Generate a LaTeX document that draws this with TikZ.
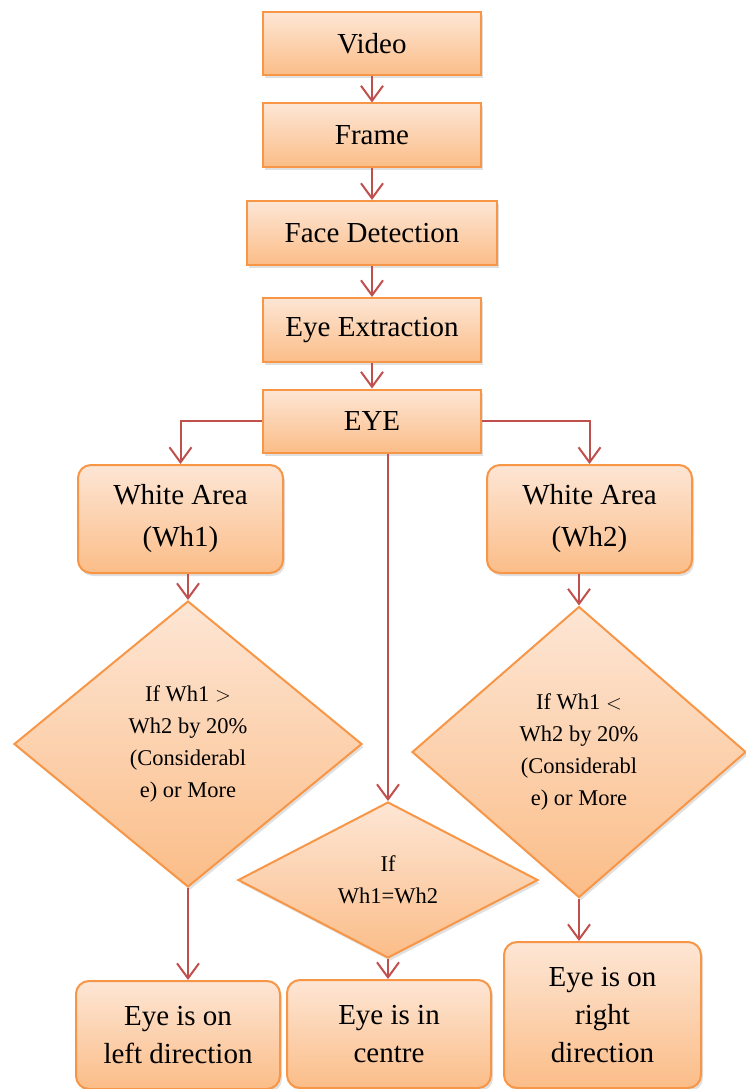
\documentclass[tikz,border=0pt]{standalone}
\usepackage{fontspec}
\setmainfont{Liberation Serif}
\usetikzlibrary{arrows.meta, positioning, shapes.geometric, shadows}

\definecolor{boxtop}{HTML}{FDE6D5}
\definecolor{boxbot}{HTML}{FBBD88}
\definecolor{boxline}{HTML}{F79646}
\definecolor{arrowred}{HTML}{C0504D}

\begin{document}
\begin{tikzpicture}[x=1pt, y=1pt, on grid,
        base/.style={draw=boxline, line width=2pt, top color=boxtop, bottom color=boxbot,
            drop shadow={shadow xshift=2pt, shadow yshift=-3pt, fill=black!30, opacity=0.4},
            align=center, inner sep=2pt},
        stepbox/.style={base, rectangle, minimum width=218pt, minimum height=63pt,
            font=\fontsize{29}{40}\selectfont},
        roundbox/.style={base, rectangle, rounded corners=13pt, minimum width=205pt, minimum height=108pt,
            font=\fontsize{29}{42}\selectfont},
        endbox/.style={roundbox, font=\fontsize{29}{38}\selectfont},
        test/.style={base, diamond, inner sep=0pt, font=\fontsize{22.5}{32}\selectfont},
        arr/.style={draw=arrowred, line width=2pt, -{Straight Barb[length=15pt, width=22pt, line width=2pt]}}]
    \useasboundingbox (0,0) rectangle (746,-1089);
    \node[stepbox] (video) at (372,-44) {Video};
    \node[stepbox] (frame) [below=91pt of video] {Frame};
    \node[stepbox, minimum width=250pt, minimum height=64pt] (face) [below=98pt of frame] {Face Detection};
    \node[stepbox, minimum height=64pt] (extract) [below=97pt of face] {Eye Extraction};
    \node[stepbox] (eye) [below=91pt of extract] {EYE};
    \node[roundbox] (wha) [below left=98pt and 191.5pt of eye] {White Area\\(Wh1)};
    \node[roundbox] (whb) [below right=98pt and 217.5pt of eye] {White Area\\(Wh2)};
    \node[test, minimum width=348pt, minimum height=286pt] (testl) [below right=225pt and 7.5pt of wha]
        {If Wh1 $>$\\Wh2 by 20\%\\(Considerabl\\e) or More};
    \node[test, minimum width=334pt, minimum height=291pt] (testr) [below left=233pt and 10.5pt of whb]
        {If Wh1 $<$\\Wh2 by 20\%\\(Considerabl\\e) or More};
    \node[test, minimum width=300pt, minimum height=156pt] (testm) [below right=459pt and 16pt of eye]
        {If\\Wh1=Wh2};
    \node[endbox, minimum width=204pt] (left) [below left=291pt and 10pt of testl] {Eye is on\\left direction};
    \node[endbox, minimum width=204pt] (centre) [below right=154pt and 1pt of testm] {Eye is in\\centre};
    \node[endbox, minimum width=197pt, minimum height=146pt] (right) [below right=263pt and 23.5pt of testr]
        {Eye is on\\right\\direction};

    \draw[arr] (video) -- (frame);
    \draw[arr] (frame) -- (face);
    \draw[arr] (face) -- (extract);
    \draw[arr] (extract) -- (eye);
    \draw[arr] (eye.west) -| (wha.north);
    \draw[arr] (eye.east) -| (whb.north);
    \draw[arr] (eye.south -| testm) -- (testm.north);
    \draw[arr] (wha.south -| testl) -- (testl.north);
    \draw[arr] (whb.south -| testr) -- (testr.north);
    \draw[arr] (testl.south) -- (testl.south |- left.north);
    \draw[arr] (testm.south) -- (testm.south |- centre.north);
    \draw[arr] (testr.south) -- (testr.south |- right.north);
\end{tikzpicture}
\end{document}
